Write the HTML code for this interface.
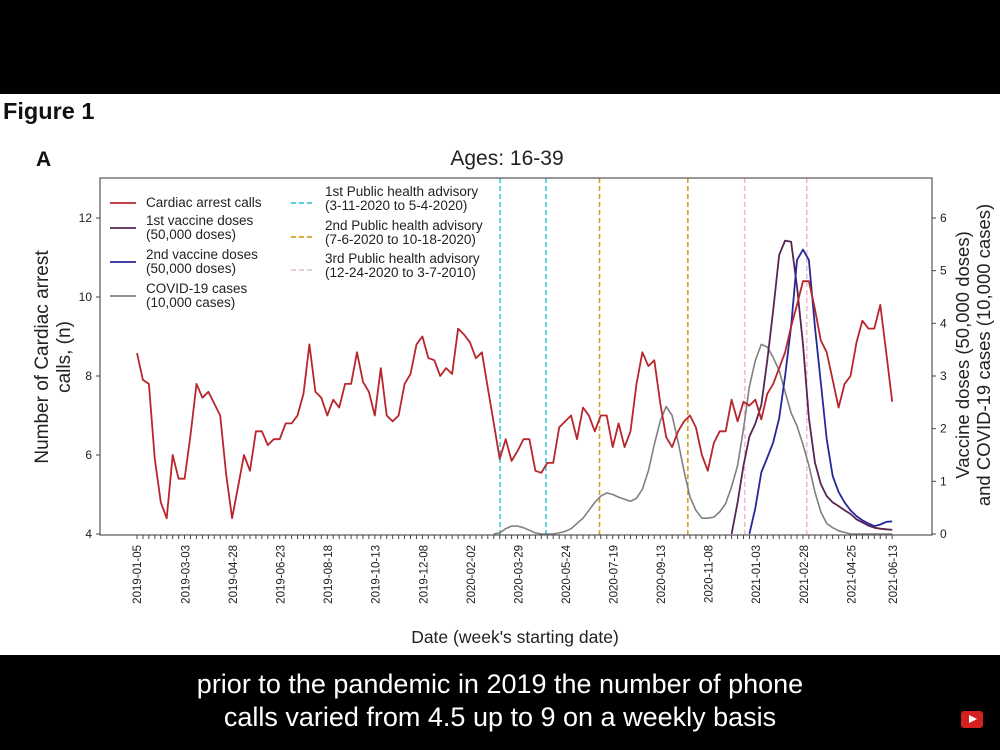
<!DOCTYPE html>
<html><head><meta charset="utf-8"><style>
html,body{margin:0;padding:0;width:1000px;height:750px;overflow:hidden;background:#000;font-family:"Liberation Sans",sans-serif}
#white{position:absolute;left:0;top:94px;width:1000px;height:561px;background:#fff}
.t{position:absolute;white-space:nowrap}
</style></head><body>
<div id="white"></div>
<div class="t" style="left:3px;top:98px;font-size:23.5px;font-weight:bold;color:#111">Figure 1</div>
<div class="t" style="left:36px;top:148px;font-size:21px;font-weight:bold;color:#111">A</div>
<svg id="chart" width="1000" height="750" style="position:absolute;left:0;top:0" font-family="Liberation Sans, sans-serif"></svg>
<div class="t" style="left:0;width:1000px;text-align:center;top:669px;font-size:27px;color:#fff">prior to the pandemic in 2019 the number of phone</div>
<div class="t" style="left:0;width:1000px;text-align:center;top:702px;font-size:27px;color:#fff">calls varied from 4.5 up to 9 on a weekly basis</div>
<div style="position:absolute;left:961px;top:711px;width:22px;height:17px;background:#d32020;border-radius:3px"><div style="position:absolute;left:8px;top:4px;border-left:8px solid #fff;border-top:4.5px solid transparent;border-bottom:4.5px solid transparent"></div></div>
<script>
const cardiac=[8.58,7.9,7.8,5.9,4.8,4.4,6.0,5.4,5.4,6.5,7.8,7.45,7.6,7.3,7.0,5.5,4.4,5.2,6.0,5.6,6.6,6.6,6.25,6.4,6.4,6.8,6.8,7.0,7.55,8.8,7.6,7.45,7.0,7.4,7.2,7.8,7.8,8.6,7.85,7.6,7.0,8.2,7.0,6.85,7.0,7.8,8.05,8.8,9.0,8.45,8.4,8.0,8.2,8.05,9.2,9.05,8.85,8.45,8.6,7.7,6.8,5.9,6.4,5.85,6.1,6.4,6.4,5.6,5.55,5.8,5.8,6.7,6.85,7.0,6.4,7.2,7.0,6.6,7.0,7.0,6.2,6.8,6.2,6.6,7.8,8.6,8.25,8.4,7.3,6.45,6.2,6.6,6.85,7.0,6.7,6.0,5.6,6.3,6.6,6.6,7.4,6.85,7.35,7.25,7.4,6.9,7.55,7.8,8.2,8.6,9.25,9.8,10.4,10.4,9.7,8.9,8.6,7.9,7.2,7.8,8.0,8.85,9.4,9.2,9.2,9.8,8.6,7.35];
const covidStart=60;
const covid=[0,0.02,0.1,0.15,0.15,0.12,0.07,0.02,0,0,0,0.02,0.05,0.1,0.2,0.3,0.45,0.6,0.72,0.78,0.75,0.7,0.66,0.62,0.68,0.85,1.2,1.7,2.15,2.42,2.25,1.75,1.2,0.7,0.45,0.3,0.3,0.32,0.42,0.58,0.9,1.3,2.0,2.8,3.3,3.6,3.55,3.35,3.1,2.7,2.3,2.05,1.7,1.3,0.8,0.42,0.2,0.12,0.06,0.03,0,0,0,0,0,0,0,0];
const dose1Start=100;
const dose1=[0,0.6,1.3,1.85,2.1,2.45,3.3,4.25,5.3,5.57,5.55,4.7,3.6,2.2,1.36,0.95,0.72,0.6,0.53,0.45,0.38,0.28,0.22,0.16,0.12,0.1,0.09,0.08];
const dose2Start=103;
const dose2=[0,0.5,1.17,1.45,1.74,2.2,3.0,3.94,5.2,5.4,5.2,3.94,2.88,1.8,1.1,0.8,0.6,0.45,0.34,0.26,0.2,0.15,0.18,0.23,0.24];
const xTickLabels=["2019-01-05","2019-03-03","2019-04-28","2019-06-23","2019-08-18","2019-10-13","2019-12-08","2020-02-02","2020-03-29","2020-05-24","2020-07-19","2020-09-13","2020-11-08","2021-01-03","2021-02-28","2021-04-25","2021-06-13"];
const leftTicks=[4,6,8,10,12];
const rightTicks=[0,1,2,3,4,5,6];
const advisoryDates=["2020-03-11","2020-05-04","2020-07-06","2020-10-18","2020-12-24","2021-03-07"];
const advisoryColors=["#3cc8d8","#3cc8d8","#d4a020","#d4a020","#f0bcd0","#f0bcd0"];

const svg=document.getElementById('chart');
const NS='http://www.w3.org/2000/svg';
const L=100,R=932,T=178,B=535;
const day0=Date.UTC(2019,0,5);
const pxDay=756/890;
function xDays(d){return 137+d*pxDay;}
function xWeek(i){return xDays(i*7);}
function xDate(s){const p=s.split('-');return xDays((Date.UTC(+p[0],p[1]-1,+p[2])-day0)/86400000);}
function yL(v){return 534-(v-4)*39.5;}
function yR(v){return 534-v*52.67;}
function mk(tag,attrs){const e=document.createElementNS(NS,tag);for(const k in attrs)e.setAttribute(k,attrs[k]);svg.appendChild(e);return e;}

advisoryDates.forEach((d,i)=>{
  const x=xDate(d)-3;
  const e=mk('line',{x1:x,x2:x,y1:T,y2:B,stroke:advisoryColors[i],'stroke-width':1.6,'stroke-dasharray':'5,3'});
  
  
});
function series(arr,start,fy,color,name,w){
  const pts=arr.map((v,i)=>xWeek(start+i).toFixed(1)+','+fy(v).toFixed(1)).join(' ');
  const e=mk('polyline',{points:pts,fill:'none',stroke:color,'stroke-width':w,'stroke-linejoin':'round'});
  
  
}
series(covid,covidStart,yR,'#808080','covid-cases-line',1.6);
series(dose1,dose1Start,yR,'#5a2450','first-dose-line',1.8);
series(dose2,dose2Start,yR,'#27279a','second-dose-line',1.8);
series(cardiac,0,yL,'#b8252c','cardiac-calls-line',1.8);

const fr=mk('rect',{x:L,y:T,width:R-L,height:B-T,fill:'none',stroke:'#555','stroke-width':1.2});


for(let i=0;i<=127;i++){const e=mk('line',{x1:xWeek(i),x2:xWeek(i),y1:B,y2:B+4,stroke:'#444','stroke-width':1});
  
  }
xTickLabels.forEach(s=>{
  const x=xDate(s);
  const t=mk('text',{x:0,y:0,transform:`translate(${x+4},${B+10}) rotate(-90)`,'text-anchor':'end','font-size':11.5,fill:'#222'});
  t.textContent=s;
  
  
});
leftTicks.forEach(v=>{
  const y=yL(v);
  const l=mk('line',{x1:L-4,x2:L,y1:y,y2:y,stroke:'#444'});
  
  
  const t=mk('text',{x:L-8,y:y+4,'text-anchor':'end','font-size':12,fill:'#222'});t.textContent=v;
  
  
});
rightTicks.forEach(v=>{
  const y=yR(v);
  const l=mk('line',{x1:R,x2:R+4,y1:y,y2:y,stroke:'#444'});
  
  
  const t=mk('text',{x:R+8,y:y+4,'font-size':12,fill:'#222'});t.textContent=v;
  
  
});
function txt(x,y,s,size,name,extra){const t=mk('text',Object.assign({x:x,y:y,'font-size':size,fill:'#222'},extra||{}));t.textContent=s;
  
  return t;}
txt(507,165,'Ages: 16-39',21,'chart-title',{'text-anchor':'middle'});
txt(515,643,"Date (week's starting date)",17.5,'x-axis-title',{'text-anchor':'middle'});
txt(0,0,'Number of Cardiac arrest',19,'y-axis-title-left',{'text-anchor':'middle',transform:'translate(48,357) rotate(-90)'});
txt(0,0,'calls, (n)',19,'y-axis-title-left-line2',{'text-anchor':'middle',transform:'translate(70,357) rotate(-90)'});
txt(0,0,'Vaccine doses (50,000 doses)',18.5,'y-axis-title-right',{'text-anchor':'middle',transform:'translate(969,355) rotate(-90)'});
txt(0,0,'and COVID-19 cases (10,000 cases)',18.5,'y-axis-title-right-line2',{'text-anchor':'middle',transform:'translate(990,355) rotate(-90)'});
const leg=[[203,'#b8252c',['Cardiac arrest calls']],[228,'#5a2450',['1st vaccine doses','(50,000 doses)']],[262,'#27279a',['2nd vaccine doses','(50,000 doses)']],[296,'#808080',['COVID-19 cases','(10,000 cases)']]];
leg.forEach(([y,c,lines])=>{
  const l=mk('line',{x1:110,x2:136,y1:y,y2:y,stroke:c,'stroke-width':1.8});
  
  
  lines.forEach((s,i)=>txt(146,(lines.length>1?y-3:y+4)+i*14,s,13.5,'legend-entry'));
});
const leg2=[[203,'#3cc8d8',['1st Public health advisory','(3-11-2020 to 5-4-2020)']],[237,'#d4a020',['2nd Public health advisory','(7-6-2020 to 10-18-2020)']],[270,'#e8c8d8',['3rd Public health advisory','(12-24-2020 to 3-7-2010)']]];
leg2.forEach(([y,c,lines])=>{
  const l=mk('line',{x1:291,x2:315,y1:y,y2:y,stroke:c,'stroke-width':1.8,'stroke-dasharray':'5,3'});
  
  
  lines.forEach((s,i)=>txt(325,y-7+i*14,s,13.5,'legend-entry'));
});
</script>
</body></html>
